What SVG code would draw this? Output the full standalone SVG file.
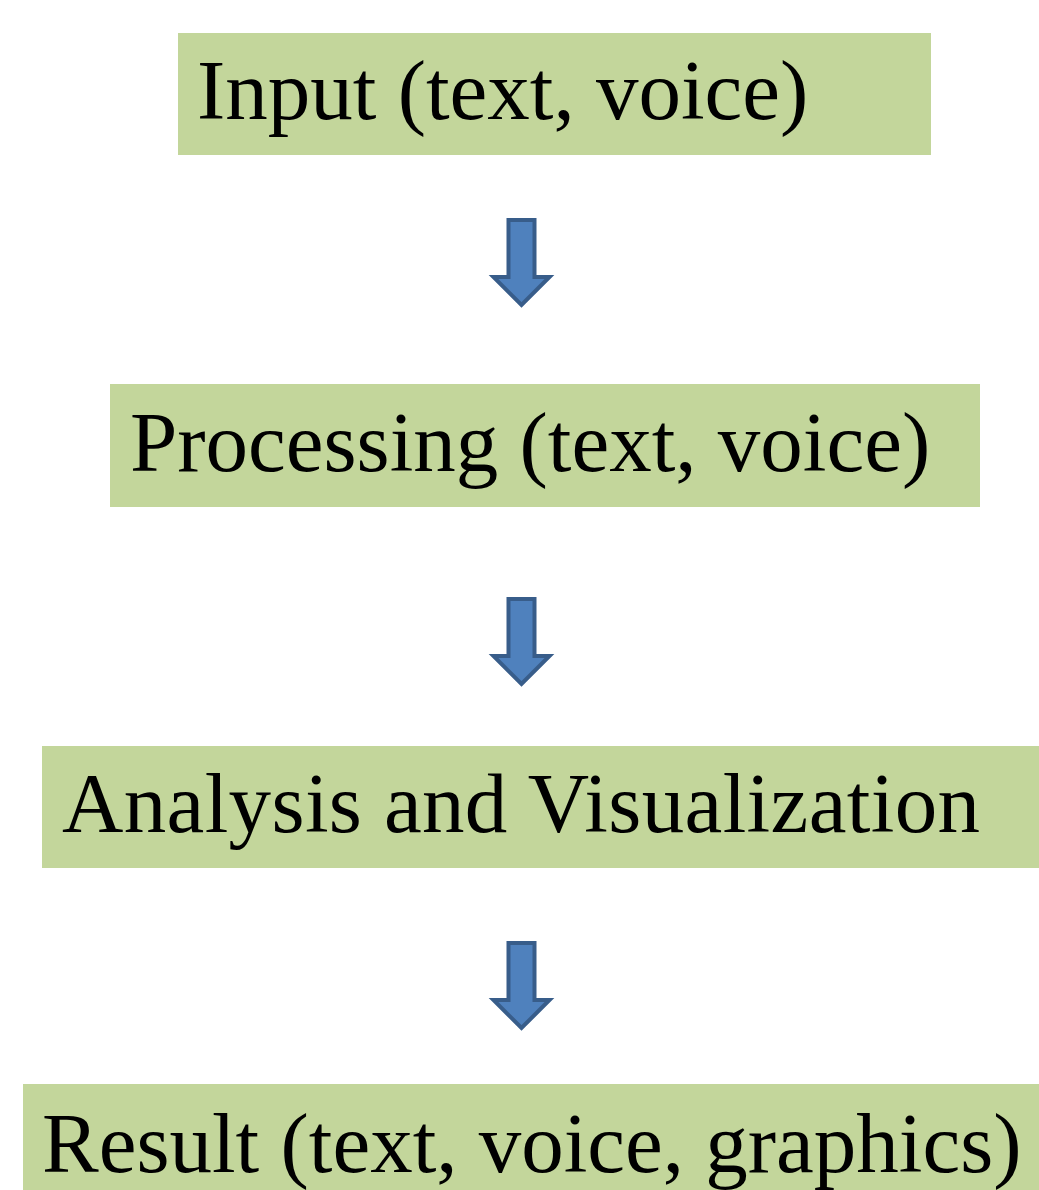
<svg xmlns="http://www.w3.org/2000/svg" width="1039" height="1190" viewBox="0 0 1039 1190">
<style>
.box{fill:#c3d69b;}
.lbl{font-family:"Liberation Serif","Times New Roman",serif;font-size:85px;fill:#000;}
.arr{fill:#4f81bd;stroke:#385d8a;stroke-width:4;stroke-linejoin:miter;}
</style>
<defs>
<path id="downArrow" d="M -13,0 H 13 V 57 H 28 L 0 85 L -28 57 H -13 Z"/>
</defs>
<rect width="1039" height="1190" fill="#ffffff"/>
<g id="node-input">
<rect class="box" x="178" y="33" width="753" height="122"/>
<text class="lbl" x="197" y="119">Input (text, voice)</text>
</g>
<g id="node-processing">
<rect class="box" x="110" y="384" width="870" height="123"/>
<text class="lbl" x="130" y="471">Processing (text, voice)</text>
</g>
<g id="node-analysis">
<rect class="box" x="42" y="746" width="997" height="122"/>
<text class="lbl" x="62" y="832" textLength="918" lengthAdjust="spacing">Analysis and Visualization</text>
</g>
<g id="node-result">
<rect class="box" x="23" y="1084" width="1016" height="106"/>
<text class="lbl" x="42" y="1172">Result (text, voice, graphics)</text>
</g>
<g id="connectors">
<use href="#downArrow" class="arr" transform="translate(521.5,220)"/>
<use href="#downArrow" class="arr" transform="translate(521.5,599)"/>
<use href="#downArrow" class="arr" transform="translate(521.5,943)"/>
</g>
</svg>
